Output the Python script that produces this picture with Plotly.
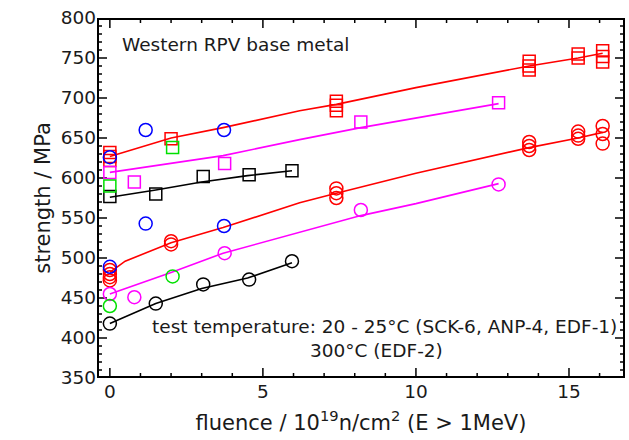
import plotly.graph_objects as go

# ---------------- data ----------------
# upper group: squares
red_sq_x = [0, 0, 0, 2, 7.4, 7.4, 7.4, 13.7, 13.7, 13.7, 15.3, 15.3, 16.1, 16.1, 16.1]
red_sq_y = [632, 627, 622, 649, 696, 691, 684, 746, 740, 735, 755, 750, 759, 752, 745]
mag_sq_x = [0, 0.8, 3.75, 8.2, 12.7]
mag_sq_y = [607, 595, 618, 670, 694]
blk_sq_x = [0, 1.5, 3.05, 4.55, 5.95]
blk_sq_y = [577, 580, 602, 604, 609]
grn_sq_x = [0, 2.05]
grn_sq_y = [590, 638]
blu_ci_up_x = [0, 1.17, 3.73]
blu_ci_up_y = [626, 660, 660]

# lower group: circles
red_ci_x = [0, 0, 0, 0, 2, 2, 7.4, 7.4, 7.4, 13.7, 13.7, 13.7, 15.3, 15.3, 15.3, 16.1, 16.1, 16.1]
red_ci_y = [485, 480, 476, 472, 521, 517, 587, 581, 575, 645, 640, 635, 658, 653, 649, 665, 655, 643]
mag_ci_x = [0, 0.8, 3.75, 8.2, 12.7]
mag_ci_y = [455, 451, 506, 560, 592]
blk_ci_x = [0, 1.5, 3.05, 4.55, 5.95]
blk_ci_y = [418, 443, 467, 473, 496]
grn_ci_x = [0, 2.05]
grn_ci_y = [440, 477]
blu_ci_lo_x = [0, 1.17, 3.73]
blu_ci_lo_y = [489, 543, 540]

# trend lines
red_up_lx = [0, 2, 3.7, 6.2, 7.4, 10, 13.7, 15.3, 16.1]
red_up_ly = [627, 650, 663, 684, 692, 713, 740, 750, 756]
mag_up_lx = [0, 3.7, 6.2, 8.2, 12.7]
mag_up_ly = [607, 628, 648, 663, 693]
blk_up_lx = [0, 1.5, 3.0, 4.5, 5.95]
blk_up_ly = [576, 585, 595, 603, 609]
red_lo_lx = [0, 0.5, 2, 3.7, 6.2, 7.4, 10, 13.7, 15.3, 16.1]
red_lo_ly = [482, 496, 519, 538, 569, 581, 606, 638, 650, 657]
mag_lo_lx = [0, 2, 3.7, 6.2, 8.2, 10, 12.7]
mag_lo_ly = [455, 482, 506, 532, 553, 568, 593]
blk_lo_lx = [0, 1.5, 3.0, 4.5, 5.95]
blk_lo_ly = [418, 443, 462, 475, 494]

# axis ticks
x_major = [0, 5, 10, 15]
x_minor = list(range(0, 17))
y_major = list(range(350, 801, 50))
y_minor = list(range(350, 801, 10))
X_RANGE = [-0.42, 16.83]
Y_RANGE = [350, 800]

RED = "#ff0000"
MAG = "#ff00ff"
BLK = "#000000"
GRN = "#00e000"
BLU = "#0000ff"

W, H = 629, 440
ML, MR, MT, MB = 97, 4, 18, 62
px_x = (X_RANGE[1] - X_RANGE[0]) / (W - ML - MR)   # data units per pixel (x)
px_y = (Y_RANGE[1] - Y_RANGE[0]) / (H - MT - MB)   # data units per pixel (y)

fig = go.Figure()

# ---- frame and ticks (drawn as line traces along the axis ranges) ----
x0, x1 = X_RANGE
y0, y1 = Y_RANGE
fig.add_trace(go.Scatter(x=[x0, x1, x1, x0, x0], y=[y0, y0, y1, y1, y0], mode="lines",
                         line=dict(color="black", width=4), showlegend=False, hoverinfo="skip"))

def tick_trace(major_len, minor_len):
    tx, ty = [], []
    for v in x_minor:
        L = (major_len if v in x_major else minor_len) * px_y
        tx += [v, v, None, v, v, None]
        ty += [y0, y0 + L, None, y1, y1 - L, None]
    for v in y_minor:
        L = (major_len if v in y_major else minor_len) * px_x
        tx += [x0, x0 + L, None, x1, x1 - L, None]
        ty += [v, v, None, v, v, None]
    return tx, ty

tx, ty = tick_trace(10, 5)
fig.add_trace(go.Scatter(x=tx, y=ty, mode="lines", line=dict(color="black", width=1.5),
                         showlegend=False, hoverinfo="skip"))

def line(x, y, c):
    fig.add_trace(go.Scatter(x=x, y=y, mode="lines", line=dict(color=c, width=1.6),
                             showlegend=False, hoverinfo="skip"))

def pts(x, y, c, sym):
    fig.add_trace(go.Scatter(x=x, y=y, mode="markers", showlegend=False,
                             marker=dict(symbol=sym, size=12 if sym == "square-open" else 13,
                                         color=c, line=dict(color=c, width=1.5))))

for lx, ly, c in [(red_up_lx, red_up_ly, RED), (mag_up_lx, mag_up_ly, MAG), (blk_up_lx, blk_up_ly, BLK),
                  (red_lo_lx, red_lo_ly, RED), (mag_lo_lx, mag_lo_ly, MAG), (blk_lo_lx, blk_lo_ly, BLK)]:
    line(lx, ly, c)

pts(red_sq_x, red_sq_y, RED, "square-open")
pts(mag_sq_x, mag_sq_y, MAG, "square-open")
pts(blk_sq_x, blk_sq_y, BLK, "square-open")
pts(grn_sq_x, grn_sq_y, GRN, "square-open")
pts(blu_ci_up_x, blu_ci_up_y, BLU, "circle-open")
pts(red_ci_x, red_ci_y, RED, "circle-open")
pts(mag_ci_x, mag_ci_y, MAG, "circle-open")
pts(blk_ci_x, blk_ci_y, BLK, "circle-open")
pts(grn_ci_x, grn_ci_y, GRN, "circle-open")
pts(blu_ci_lo_x, blu_ci_lo_y, BLU, "circle-open")

FONT = "DejaVu Sans, Liberation Sans, Arial, sans-serif"
TXT = "#1a1a1a"
FS = 18.5

fig.add_annotation(x=0.33, y=767, xref="x", yref="y", text="Western RPV base metal",
                   showarrow=False, xanchor="left", yanchor="middle",
                   font=dict(family=FONT, size=FS, color=TXT))
fig.add_annotation(x=1.31, y=415, xref="x", yref="y",
                   text="test temperature: 20 - 25°C (SCK-6, ANP-4, EDF-1)",
                   showarrow=False, xanchor="left", yanchor="middle",
                   font=dict(family=FONT, size=FS, color=TXT))
fig.add_annotation(x=6.47, y=385, xref="x", yref="y", text="300°C (EDF-2)",
                   showarrow=False, xanchor="left", yanchor="middle",
                   font=dict(family=FONT, size=FS, color=TXT))

fig.update_layout(
    width=W, height=H,
    margin=dict(l=ML, r=MR, t=MT, b=MB),
    plot_bgcolor="white", paper_bgcolor="white",
    font=dict(family=FONT, size=FS, color=TXT),
    xaxis=dict(range=X_RANGE, tickvals=x_major, ticks="", showgrid=False, zeroline=False,
               showline=False, automargin=False, fixedrange=True,
               title=dict(text="fluence / 10<sup>19</sup>n/cm<sup>2</sup> (E > 1MeV)",
                          font=dict(size=21), standoff=14),
               tickfont=dict(size=FS)),
    yaxis=dict(range=Y_RANGE, tickvals=y_major, ticks="", showgrid=False, zeroline=False,
               showline=False, automargin=False, fixedrange=True,
               ticksuffix="\u00a0\u00a0",
               title=dict(text="strength / MPa", font=dict(size=21), standoff=4),
               tickfont=dict(size=FS)),
)

fig.write_html("out.html", config={"displayModeBar": False},
               post_script="document.body.style.margin='0px';")
